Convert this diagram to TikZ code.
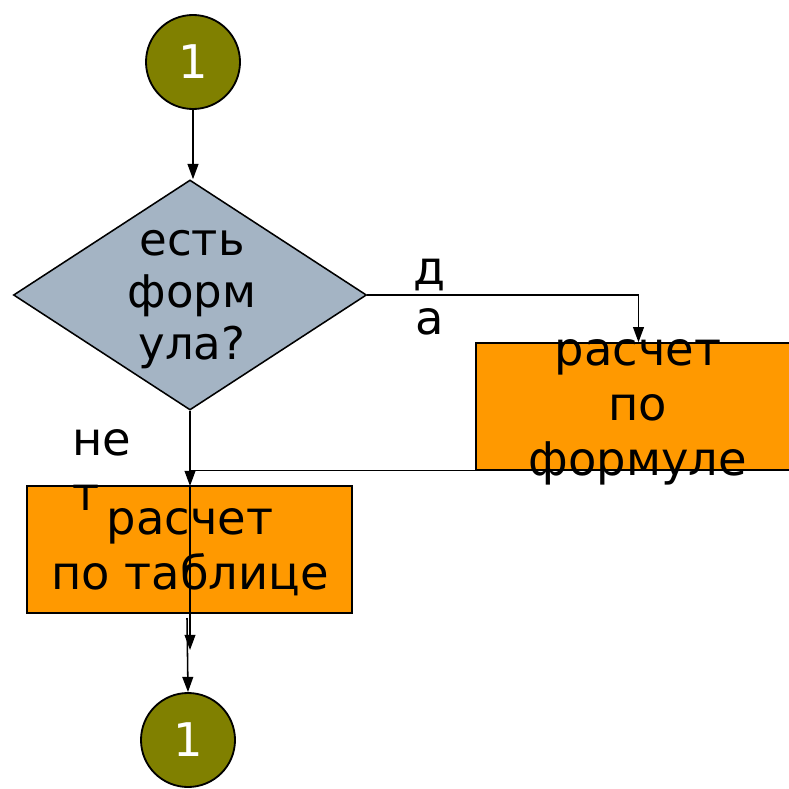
\documentclass[tikz,border=0pt]{standalone}
\usepackage{fontspec}
\setmainfont{DejaVu Sans}
\usetikzlibrary{shapes.geometric,arrows.meta}
\definecolor{olivefill}{RGB}{128,128,0}
\definecolor{diamfill}{RGB}{164,180,196}
\definecolor{boxfill}{RGB}{255,153,0}
\tikzset{
  conn/.style={circle, draw, line width=1.3pt, fill=olivefill, text=white, minimum size=2.35cm, inner sep=0pt},
  decide/.style={diamond, draw, line width=1.1pt, fill=diamfill, minimum width=8.825cm, minimum height=5.75cm, inner sep=0pt},
  calcbox/.style={rectangle, draw, line width=1pt, fill=boxfill, minimum width=8.125cm, minimum height=3.175cm, inner sep=0pt},
  flow/.style={line width=1.1pt, -{Triangle[length=0.38cm,width=0.27cm]}},
  plain/.style={line width=1.1pt},
  bigtxt/.style={font=\fontsize{33}{39}\selectfont, inner sep=0pt}
}
\begin{document}
\begin{tikzpicture}[x=0.025cm, y=-0.025cm]
\clip (0,0) rectangle (789,789);
\fill[white] (0,0) rectangle (789,789);

\node[conn, bigtxt] (start) at (193,62) {1};
\node[decide] (formula) at (190,295) {};
\node[bigtxt, align=center, font=\fontsize{32}{37}\selectfont] at (192,300) {есть\\форм\\ула?};

\node[calcbox] (byformula) at (638.5,406.5) {};
\node[calcbox] (bytable) at (189.5,549.5) {};
\node[conn, bigtxt] (finish) at (188,740) {1};

\node[bigtxt, align=center] (yeslbl) at (430,297) {д\\[-3pt]а};
\node[bigtxt, align=left, anchor=west] (nolbl) at (72,470) {не\\т};

\coordinate (tabin) at (190,486);
\coordinate (tabout) at (190,650);
\coordinate (tabstub) at (187,618);

\draw[flow] (start) -- (start.south |- formula.north);
\draw[flow] (formula.east) -| (byformula.north);
\draw[plain] (byformula.south west) -- (byformula.south west -| formula.south);
\draw[flow] (formula.south) -- (tabin);
\draw[flow] (tabin) -- (tabout);
\draw[flow] (tabstub) -- (finish.north);

\node[bigtxt, align=center] at (638,412) {расчет\\по\\формуле};
\node[bigtxt, align=center] at (190,552) {расчет\\по таблице};
\end{tikzpicture}
\end{document}
